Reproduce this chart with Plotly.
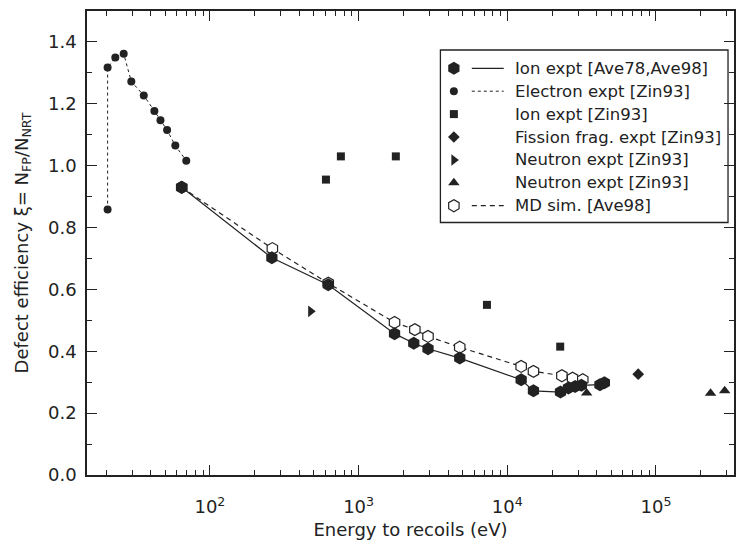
import plotly.graph_objects as go
import numpy as np

# ---- data ----
ion_ave_E = [64.6, 261, 625, 1745, 2350, 2930, 4790, 12400, 15000, 22800, 25800, 28600, 31500, 42000, 45000]
ion_ave_v = [0.930, 0.702, 0.615, 0.457, 0.426, 0.408, 0.378, 0.308, 0.272, 0.268, 0.281, 0.286, 0.290, 0.292, 0.298]

electron_E = [20.5, 20.5, 23.1, 26.3, 29.6, 35.9, 42.3, 46.5, 51.5, 58.5, 69.3]
electron_v = [0.858, 1.317, 1.350, 1.362, 1.272, 1.227, 1.177, 1.147, 1.115, 1.065, 1.016]

ion_zin_E = [603, 760, 1780, 7300, 22700]
ion_zin_v = [0.955, 1.030, 1.030, 0.550, 0.415]

fission_E = [76000]
fission_v = [0.326]

neutron_r_E = [476]
neutron_r_v = [0.529]

neutron_u_E = [34200, 233000, 290000]
neutron_u_v = [0.265, 0.264, 0.272]

md_E = [64.6, 263, 625, 1745, 2390, 2930, 4790, 12400, 15000, 23300, 27500, 32200]
md_v = [0.930, 0.732, 0.620, 0.493, 0.470, 0.448, 0.413, 0.351, 0.335, 0.321, 0.313, 0.308]

x_major = [100, 1000, 10000, 100000]
x_major_text = ["10<sup>2</sup>", "10<sup>3</sup>", "10<sup>4</sup>", "10<sup>5</sup>"]

legend_names = ["Ion expt [Ave78,Ave98]", "Electron expt [Zin93]", "Ion expt [Zin93]",
                "Fission frag. expt [Zin93]", "Neutron expt [Zin93]", "Neutron expt [Zin93]",
                "MD sim. [Ave98]"]

FONT = "DejaVu Sans, Liberation Sans, Arial, sans-serif"
INK = "#222"

W, H = 737, 544
ML, MR, MT, MB = 87, 1, 11, 69
PW, PH = W - ML - MR, H - MT - MB


def px_x(p):
    return (p - ML) / PW


def px_y(p):
    return (H - MB - p) / PH


# style per series: (symbol, size, fill, line dash or None)
styles = [
    ("hexagon", 13, INK, "solid"),
    ("circle", 8, INK, "dot"),
    ("square", 8, INK, None),
    ("diamond", 9, INK, None),
    ("triangle-right", 10, INK, None),
    ("triangle-up", 10, INK, None),
    ("hexagon", 12, "white", "5px,4px"),
]

series = [
    (ion_ave_E, ion_ave_v), (electron_E, electron_v), (ion_zin_E, ion_zin_v),
    (fission_E, fission_v), (neutron_r_E, neutron_r_v), (neutron_u_E, neutron_u_v),
    (md_E, md_v),
]

fig = go.Figure()

# draw MD first so filled experimental hexagons sit above it
draw_order = [6, 0, 1, 2, 3, 4, 5]
for i in draw_order:
    sym, size, fill, dash = styles[i]
    xs, ys = series[i]
    lw = 1 if dash == "dot" else 1.2
    fig.add_trace(go.Scatter(
        x=xs, y=ys, mode="lines+markers" if dash else "markers",
        name=legend_names[i], showlegend=False,
        line=dict(color=INK, width=lw, dash=dash if dash else "solid"),
        marker=dict(symbol=sym, size=size, color=fill, opacity=1,
                    line=dict(color=INK, width=1.2 if fill == "white" else 0)),
    ))

# ---- hand-built legend (marker, line sample, text) ----
box_l, box_r, box_t, box_b = 441.5, 730, 50, 222.5
row0, row_dy = 68.3, 22.9
mk_x, ln_x0, ln_x1, tx_x = 455, 473, 505, 514

shapes = [dict(type="rect", xref="paper", yref="paper",
               x0=px_x(box_l), x1=px_x(box_r), y0=px_y(box_b), y1=px_y(box_t),
               line=dict(color=INK, width=1.3), fillcolor="white", layer="below")]
annotations = []
for i, name in enumerate(legend_names):
    sym, size, fill, dash = styles[i]
    yc = row0 + i * row_dy
    fig.add_trace(go.Scatter(
        x=[px_x(mk_x)], y=[px_y(yc)], xaxis="x2", yaxis="y2", mode="markers",
        showlegend=False, hoverinfo="skip",
        marker=dict(symbol=sym, size=size, color=fill, opacity=1,
                    line=dict(color=INK, width=1.2 if fill == "white" else 0)),
    ))
    if dash:
        shapes.append(dict(type="line", xref="paper", yref="paper",
                           x0=px_x(ln_x0), x1=px_x(ln_x1), y0=px_y(yc), y1=px_y(yc),
                           line=dict(color=INK, width=1 if dash == "dot" else 1.2,
                                     dash=dash), layer="above"))
    annotations.append(dict(xref="paper", yref="paper", x=px_x(tx_x), y=px_y(yc),
                            xanchor="left", yanchor="middle", showarrow=False,
                            text=name, font=dict(family=FONT, size=16.5, color=INK)))

minor_x = []
for d in range(1, 6):
    for k in range(2, 10):
        minor_x.append(k * 10 ** d)

fig.update_layout(
    width=W, height=H,
    margin=dict(l=ML, r=MR, t=MT, b=MB),
    paper_bgcolor="white", plot_bgcolor="white",
    font=dict(family=FONT, size=17, color=INK),
    showlegend=False,
    shapes=shapes, annotations=annotations,
    xaxis2=dict(overlaying="x", range=[0, 1], visible=False, fixedrange=True),
    yaxis2=dict(overlaying="y", range=[0, 1], visible=False, fixedrange=True),
)

fig.update_layout(xaxis=dict(
    type="log", range=[np.log10(14.9), np.log10(335000)],
    showgrid=False, zeroline=False,
    showline=True, linecolor=INK, linewidth=1.5, mirror="allticks",
    ticks="inside", ticklen=10, tickwidth=1.2, tickcolor=INK,
    tickmode="array", tickvals=x_major, ticktext=x_major_text,
    tickfont=dict(family=FONT, size=18, color=INK),
    ticklabelstandoff=15,
    minor=dict(tickmode="array", tickvals=minor_x, ticks="inside", ticklen=5, tickwidth=1.2, tickcolor=INK, showgrid=False),
    title=dict(text="Energy to recoils (eV)", font=dict(family=FONT, size=18, color=INK), standoff=7),
))

fig.update_layout(yaxis=dict(
    range=[0, 1.5], showgrid=False, zeroline=False,
    showline=True, linecolor=INK, linewidth=1.5, mirror="allticks",
    ticks="inside", ticklen=10, tickwidth=1.2, tickcolor=INK,
    tickmode="array", tickvals=[0, 0.2, 0.4, 0.6, 0.8, 1.0, 1.2, 1.4],
    tickformat=".1f",
    tickfont=dict(family=FONT, size=18, color=INK),
    ticklabelstandoff=5,
    minor=dict(tickmode="array", tickvals=[0.1, 0.3, 0.5, 0.7, 0.9, 1.1, 1.3, 1.5], ticks="inside", ticklen=5, tickwidth=1.2, tickcolor=INK, showgrid=False),
    title=dict(text="Defect efficiency ξ= N<sub>FP</sub>/N<sub>NRT</sub>", font=dict(family=FONT, size=18, color=INK), standoff=15),
))

fig.write_html("out.html")
